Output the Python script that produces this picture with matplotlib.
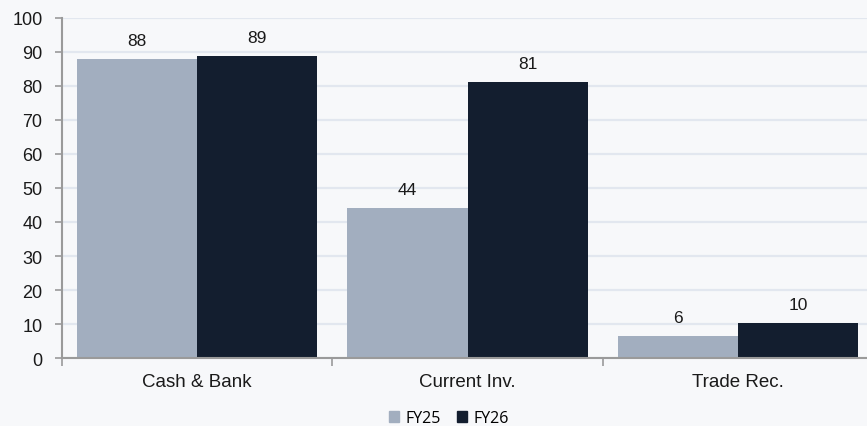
import numpy as np
import matplotlib.pyplot as plt
from matplotlib.patches import Patch

categories = ['Cash & Bank', 'Current Inv.', 'Trade Rec.']
fy25 = [88.0, 44.1, 6.4]
fy26 = [88.7, 81.1, 10.3]
labels25 = ['88', '44', '6']
labels26 = ['89', '81', '10']

bg = '#F7F8FA'
c25 = '#A2AEBF'
c26 = '#131E2F'

plt.rcParams['font.family'] = ['Liberation Sans', 'DejaVu Sans']

fig = plt.figure(figsize=(8.67, 4.27), dpi=100, facecolor=bg)
ax = fig.add_axes([62 / 867, 1 - 359 / 427, 811 / 867, 340 / 427])
ax.set_facecolor(bg)

x = np.arange(len(categories))
w = 0.444
b1 = ax.bar(x - w / 2, fy25, w, color=c25, zorder=3)
b2 = ax.bar(x + w / 2, fy26, w, color=c26, zorder=3)

for bars, labs in ((b1, labels25), (b2, labels26)):
    for bar, lab in zip(bars, labs):
        ax.annotate(lab, (bar.get_x() + bar.get_width() / 2, bar.get_height()),
                    xytext=(0, 8), textcoords='offset points',
                    ha='center', va='bottom', fontsize=12.5, color='#1a1a1a')

ax.set_ylim(0, 100)
ax.set_xlim(-0.5, 2.5)
ax.set_yticks(range(0, 101, 10))
ax.set_xticks(x)
ax.set_xticklabels(categories)
ax.set_xticks([-0.5, 0.5, 1.5, 2.5], minor=True)
ax.tick_params(axis='x', which='major', length=0, pad=11, labelsize=13.5, colors='#1a1a1a')
ax.tick_params(axis='x', which='minor', length=6, color='#9a9a9a', width=1.2)
ax.tick_params(axis='y', length=5, width=1.2, color='#9a9a9a', pad=9, labelsize=13,
               labelcolor='#1a1a1a')

ax.grid(axis='y', color='#E2E7EF', linewidth=1.6, zorder=0)
for s in ('top', 'right'):
    ax.spines[s].set_visible(False)
for s in ('left', 'bottom'):
    ax.spines[s].set_color('#9a9a9a')
    ax.spines[s].set_linewidth(1.5)
ax.spines['left'].set_zorder(4)
ax.spines['bottom'].set_zorder(4)

handles = [Patch(color=c25, label='FY25'), Patch(color=c26, label='FY26')]
fig.legend(handles=handles, loc='center', bbox_to_anchor=(449 / 867, 1 - 419 / 427),
           ncol=2, frameon=False, handlelength=0.65, handleheight=0.65,
           handletextpad=0.4, columnspacing=1.0,
           prop={'family': 'Open Sans', 'size': 11.5})

fig.savefig('out.png', dpi=100, facecolor=bg)
